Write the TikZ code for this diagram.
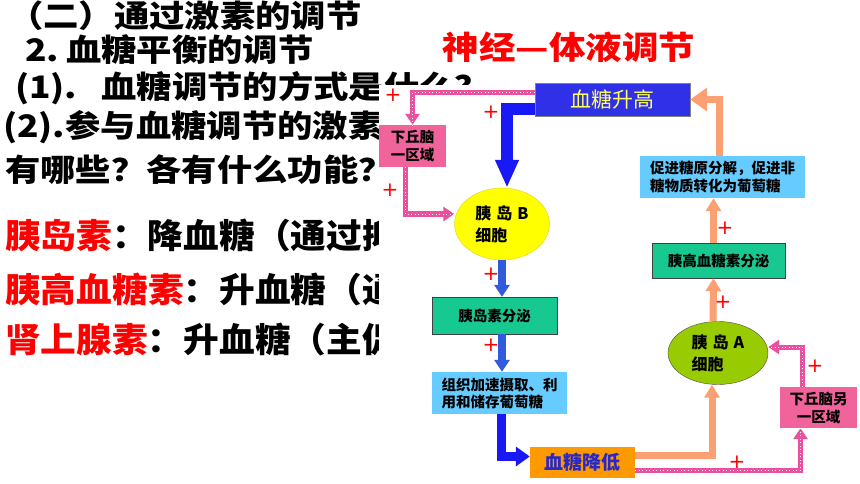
\documentclass[tikz,border=0pt]{standalone}
\usepackage{fontspec}
\newfontfamily\hei{Noto Sans CJK SC}
\newfontfamily\heiw[FakeStretch=1.14]{Noto Sans CJK SC}
\newfontfamily\heir[FakeStretch=1.05]{Noto Sans CJK SC}
\newfontfamily\dv{DejaVu Sans}
\usepackage{tikz}
\usetikzlibrary{arrows.meta,shapes.geometric}

\definecolor{hred}{RGB}{255,0,0}
\definecolor{boxblue}{RGB}{48,48,232}
\definecolor{ytext}{RGB}{255,255,90}
\definecolor{hpink}{RGB}{240,100,155}
\definecolor{dotpink}{RGB}{236,78,160}
\definecolor{byellow}{RGB}{255,255,0}
\definecolor{agreen}{RGB}{153,204,0}
\definecolor{tgreen}{RGB}{24,200,145}
\definecolor{lblue}{RGB}{102,204,255}
\definecolor{orng}{RGB}{255,153,0}
\definecolor{lowblue}{RGB}{40,40,200}
\definecolor{salmon}{RGB}{250,160,115}
\definecolor{dblue}{RGB}{25,25,245}
\definecolor{mblue}{RGB}{50,90,220}

\tikzset{
	box/.style={rectangle,inner sep=0pt,font=\hei\bfseries\fontsize{14.5}{18}\selectfont},
	cell/.style={ellipse,inner sep=0pt,align=left,font=\hei\bfseries\fontsize{16}{22}\selectfont},
	plus/.style={text=hred,inner sep=0pt,font=\dv\fontsize{20}{20}\selectfont},
	line/.style={anchor=west,inner sep=0pt}
}

\begin{document}
\begin{tikzpicture}[x=1pt,y=-1pt]
		\useasboundingbox (0,0) rectangle (860,484);
		\begin{scope}[every node/.style={line,font=\heiw\bfseries\fontsize{31}{31}\selectfont}]
		    \node (t1) at (8,16) {（二）通过激素的调节};
		    \node (t2) at (25,50) {2.\hspace{7pt}血糖平衡的调节};
		    \node (t3) at (15,88) {(1).\hspace{24pt}血糖调节的方式是什么？};
		    \node (t4) at (3,127) {(2).参与血糖调节的激素};
		    \node (t5) at (5,170) {有哪些？各有什么功能？};
		\end{scope}
		\begin{scope}[every node/.style={line,font=\heir\bfseries\fontsize{34}{34}\selectfont}]
		    \node (t6) at (5,236) {\textcolor{hred}{胰岛素}：降血糖（通过抑};
		    \node (t7) at (5,290) {\textcolor{hred}{胰高血糖素}：升血糖（通};
		    \node (t8) at (5,340) {\textcolor{hred}{肾上腺素}：升血糖（主促};
		\end{scope}
		\fill[white] (379,85) rectangle (860,484);
		\node[text=hred,font=\heiw\bfseries\fontsize{32}{32}\selectfont] (title) at (569,47) {神经—体液调节};

		\begin{scope}
		    \node[box,fill=boxblue,draw=gray,minimum width=155pt,minimum height=33pt,text=ytext,font=\hei\fontsize{21}{21}\selectfont] (high) at (612.5,99.5) {血糖升高};
		    \node[box,fill=hpink,minimum width=67pt,minimum height=42pt,align=center] (h1) at (412.5,146) {下丘脑\\一区域};
		    \node[cell,fill=byellow,draw=yellow!85!black,minimum width=95pt,minimum height=72pt] (B) at (502,224) {胰\hspace{5pt}岛\hspace{5pt}B\\细胞};
		    \node[box,fill=tgreen,draw=darkgray,minimum width=125pt,minimum height=37pt] (ins) at (494.5,315.5) {胰岛素分泌};
		    \node[box,fill=lblue,minimum width=135pt,minimum height=42pt,align=left,font=\hei\bfseries\fontsize{14.5}{17}\selectfont] (use) at (499.5,393) {组织加速摄取、利\\用和储存葡萄糖};
		    \node[box,fill=orng,minimum width=105pt,minimum height=31pt,text=lowblue,font=\hei\bfseries\fontsize{19}{19}\selectfont] (low) at (582.5,462.5) {血糖降低};
		    \node[box,fill=hpink,minimum width=77pt,minimum height=41pt,align=center] (h2) at (818.5,407.5) {下丘脑另\\一区域};
		    \node[cell,fill=agreen,draw=black!70,minimum width=100pt,minimum height=63pt] (A) at (718,353) {胰\hspace{5pt}岛\hspace{5pt}A\\细胞};
		    \node[box,fill=tgreen,draw=darkgray,minimum width=133pt,minimum height=35pt] (glu) at (718.5,260.5) {胰高血糖素分泌};
		    \node[box,fill=lblue,minimum width=165pt,minimum height=42pt,align=left] (up) at (722.5,177) {促进糖原分解，促进非\\糖物质转化为葡萄糖};
		\end{scope}

		\begin{scope}[every edge/.style={draw},
		              elbowx/.style={to path={-| (\tikztotarget)}},
		              elbowy/.style={to path={|- (\tikztotarget)}},
		              pinkdot/.style={draw=dotpink,line width=5pt,-{Triangle[length=11pt,width=14pt]},
		                              postaction={draw=white,line width=1pt,dash pattern=on 1pt off 2.5pt,-}},
		              bluefat/.style={draw=dblue,line width=12pt,-{Triangle[length=28pt,width=22pt]}},
		              bluemid/.style={draw=dblue,line width=9pt,-{Triangle[length=14pt,width=19pt]}},
		              bluethin/.style={draw=mblue,line width=8pt,-{Triangle[length=12pt,width=15pt]}},
		              salmonline/.style={draw=salmon,line width=7pt,-{Triangle[length=13pt,width=15pt]}},
		              salmonbig/.style={draw=salmon,line width=7pt,-{Triangle[length=17pt,width=23pt]}}]
		    \path ([yshift=6.5pt]high.west) edge[pinkdot,elbowx] (h1.north);
		    \path ([xshift=-7pt]h1.south) edge[pinkdot,elbowy] ([yshift=10pt]B.west);
		    \path ([yshift=-10pt]high.west) edge[bluefat,elbowx] ([xshift=5pt]B.north);
		    \path (B.south) edge[bluethin] (B.south |- ins.north);
		    \path (B.south |- ins.south) edge[bluethin] (B.south |- use.north);
		    \path ([xshift=1.5pt]use.south) edge[bluemid,elbowy] ([yshift=6pt]low.west);
		    \path ([yshift=7pt]low.east) edge[salmonline,elbowx] ([xshift=-6pt]A.south);
		    \path ([yshift=-8pt]low.east) edge[pinkdot,elbowx] ([xshift=-18pt]h2.south);
		    \path ([xshift=-16pt]h2.north) edge[pinkdot,elbowy] ([yshift=6pt]A.east);
		    \path ([xshift=-5pt]A.north) edge[salmonline] ([xshift=-5pt]glu.south);
		    \path ([xshift=-5pt]glu.north) edge[salmonline] ([xshift=-5pt]glu.north |- up.south);
		    \path ([xshift=-3pt]up.north) edge[salmonbig,elbowy] (high.east);
		\end{scope}

		\begin{scope}[every node/.style={plus}]
		    \node (p1) at (393,95) {+};
		    \node (p2) at (491,112) {+};
		    \node (p3) at (390,190) {+};
		    \node (p4) at (491,274) {+};
		    \node (p5) at (491,345) {+};
		    \node (p6) at (725,228) {+};
		    \node (p7) at (723,302) {+};
		    \node (p8) at (815,366) {+};
		    \node (p9) at (737,462) {+};
		\end{scope}
		\end{tikzpicture}
\end{document}
